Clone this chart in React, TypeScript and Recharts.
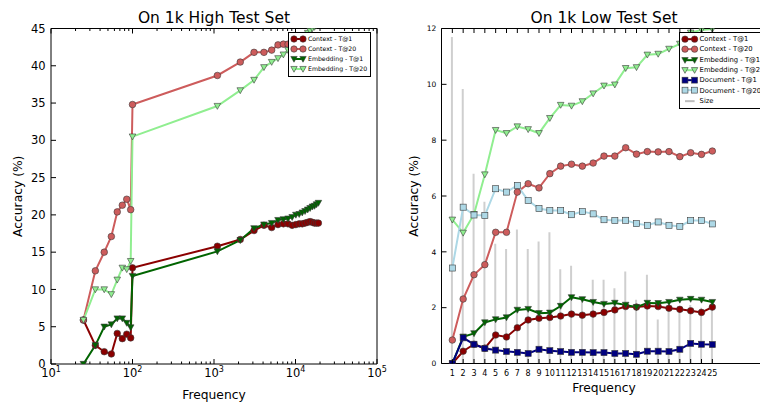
import { ComposedChart, Line, Bar, XAxis, YAxis, Legend, Label } from 'recharts'

const FONT = 'DejaVu Sans, sans-serif'

// On 1k High Test Set
const highFreq = [25, 35, 45, 55, 65, 75, 85, 95, 100, 1100, 2100, 3100, 4100, 5100, 6100, 7100, 8100, 9100, 10100, 11100, 12100, 13100, 14100, 15100, 16100, 17100, 18100, 19100]
const highContextT1 = [5.9, 2.5, 1.65, 1.35, 4.1, 3.4, 4.0, 3.5, 12.9, 15.8, 16.7, 17.9, 18.6, 18.3, 18.7, 18.8, 18.8, 18.6, 18.7, 18.8, 18.8, 18.9, 19.0, 19.1, 19.0, 18.9, 18.9, 18.9]
const highContextT20 = [5.9, 12.5, 15.0, 17.1, 20.4, 21.3, 22.1, 20.7, 34.8, 38.7, 40.5, 41.8, 41.8, 42.1, 42.8, 42.9, 42.9, 43.0, 43.1, 43.2, 43.3, 43.4, 43.5, 43.5, 43.6, 43.7, 43.8, 43.8]
const highEmbedT1 = [0, 2.5, 5.0, 5.3, 6.1, 6.1, 5.5, 4.9, 11.8, 15.1, 16.6, 18.2, 18.7, 18.9, 19.3, 19.4, 19.5, 19.7, 20.0, 20.1, 20.3, 20.5, 20.7, 20.9, 21.1, 21.2, 21.4, 21.6]
const highEmbedT20 = [5.9, 10.0, 10.0, 9.35, 11.3, 12.9, 12.7, 13.8, 30.5, 34.6, 36.7, 38.1, 39.8, 40.5, 41.0, 41.5, 42.1, 42.6, 43.0, 43.4, 43.8, 44.1, 44.4, 44.7, 45.0, 45.2, 45.4, 45.6]
const highYTicks = [0, 5, 10, 15, 20, 25, 30, 35, 40, 45]
const highDecades = [10, 100, 1000, 10000]
const minorSteps = [1, 2, 3, 4, 5, 6, 7, 8, 9]
const highXTicks = [...highDecades.flatMap((d) => minorSteps.map((m) => d * m)), 100000]

// On 1k Low Test Set
const lowFreq = [1, 2, 3, 4, 5, 6, 7, 8, 9, 10, 11, 12, 13, 14, 15, 16, 17, 18, 19, 20, 21, 22, 23, 24, 25]
const lowContextT1 = [0, 0.44, 0.69, 0.55, 1.02, 0.95, 1.28, 1.56, 1.62, 1.65, 1.7, 1.77, 1.73, 1.77, 1.83, 1.92, 2.04, 2.02, 2.06, 2.04, 1.98, 1.94, 1.89, 1.83, 2.02]
const lowContextT20 = [0.84, 2.31, 3.18, 3.54, 4.7, 4.7, 6.14, 6.44, 6.29, 6.8, 7.07, 7.14, 7.07, 7.18, 7.43, 7.43, 7.73, 7.5, 7.59, 7.58, 7.59, 7.41, 7.55, 7.49, 7.61]
const lowEmbedT1 = [0, 0.96, 1.08, 1.47, 1.58, 1.65, 1.92, 1.95, 1.8, 1.82, 2.06, 2.37, 2.3, 2.2, 2.13, 2.17, 2.1, 2.02, 2.17, 2.16, 2.2, 2.28, 2.31, 2.28, 2.2]
const lowEmbedT20 = [5.15, 4.68, 5.35, 6.77, 8.36, 8.25, 8.49, 8.39, 8.25, 8.79, 9.26, 9.23, 9.39, 9.67, 9.95, 9.99, 10.58, 10.61, 11.06, 11.09, 11.27, 11.45, 11.85, 11.95, 11.98]
const lowDocT1 = [0, 0.92, 0.69, 0.54, 0.48, 0.43, 0.4, 0.36, 0.51, 0.46, 0.43, 0.4, 0.4, 0.39, 0.39, 0.36, 0.36, 0.33, 0.44, 0.44, 0.43, 0.51, 0.72, 0.69, 0.68]
const lowDocT20 = [3.42, 5.6, 5.32, 5.3, 6.26, 6.14, 6.38, 5.84, 5.55, 5.48, 5.48, 5.33, 5.44, 5.36, 5.15, 5.12, 5.13, 5.01, 4.95, 5.07, 4.95, 4.91, 5.12, 5.12, 5.0]
const lowSize = [11.7, 9.83, 6.8, 5.79, 4.29, 4.1, 4.8, 4.1, 4.37, 4.7, 3.38, 3.5, 2.2, 3.0, 3.0, 2.7, 3.3, 2.28, 3.18, 1.58, 2.0, 1.9, 2.1, 2.0, 2.0]
const lowYTicks = [0, 2, 4, 6, 8, 10, 12]

const highData = highFreq.map((f, i) => ({
  f,
  c1: highContextT1[i],
  c20: highContextT20[i],
  e1: highEmbedT1[i],
  e20: highEmbedT20[i],
}))

const lowData = lowFreq.map((f, i) => ({
  f,
  c1: lowContextT1[i],
  c20: lowContextT20[i],
  e1: lowEmbedT1[i],
  e20: lowEmbedT20[i],
  d1: lowDocT1[i],
  d20: lowDocT20[i],
  size: lowSize[i],
}))

type Shape = 'circle' | 'tri' | 'square' | 'none'
type Series = { key: string; name: string; color: string; shape: Shape }

const highSeries: Series[] = [
  { key: 'c1', name: 'Context - T@1', color: '#8B0000', shape: 'circle' },
  { key: 'c20', name: 'Context - T@20', color: '#CD5C5C', shape: 'circle' },
  { key: 'e1', name: 'Embedding - T@1', color: '#006400', shape: 'tri' },
  { key: 'e20', name: 'Embedding - T@20', color: '#90EE90', shape: 'tri' },
]
const lowSeries: Series[] = [
  ...highSeries,
  { key: 'd1', name: 'Document - T@1', color: '#000080', shape: 'square' },
  { key: 'd20', name: 'Document - T@20', color: '#ADD8E6', shape: 'square' },
]
const sizeEntry: Series = { key: 'size', name: 'Size', color: '#bdbdbd', shape: 'none' }

function Marker({ shape, x, y, fill, s }: { shape: Shape; x: number; y: number; fill: string; s: number }) {
  const edge = '#3a3a3a'
  if (shape === 'circle') return <circle cx={x} cy={y} r={s} fill={fill} stroke={edge} strokeWidth={0.6} />
  if (shape === 'square')
    return <rect x={x - s * 0.92} y={y - s * 0.92} width={s * 1.84} height={s * 1.84} fill={fill} stroke={edge} strokeWidth={0.6} />
  if (shape === 'tri')
    return (
      <polygon
        points={`${x - s},${y - s * 0.8} ${x + s},${y - s * 0.8} ${x},${y + s}`}
        fill={fill}
        stroke={edge}
        strokeWidth={0.6}
      />
    )
  return null
}

const makeDot = (shape: Shape, fill: string, s: number) => (p: any) => {
  if (p.cx == null || p.cy == null) return <g key={`n${p.index}`} />
  return (
    <g key={`m${p.index}`}>
      <Marker shape={shape} x={p.cx} y={p.cy} fill={fill} s={s} />
    </g>
  )
}

function LegendBox({ items, fontSize, rowH, gap, padRight }: { items: Series[]; fontSize: number; rowH: number; gap: number; padRight: number }) {
  return (
    <div
      style={{
        border: '1px solid #000',
        background: '#fff',
        padding: `1px ${padRight}px 2px 1px`,
        fontFamily: FONT,
        fontSize,
        whiteSpace: 'nowrap',
        color: '#000',
      }}
    >
      {items.map((it) => (
        <div key={it.key} style={{ display: 'flex', alignItems: 'center', height: rowH }}>
          <svg width={gap + 8} height={rowH} style={{ display: 'block' }}>
            <line x1={4} x2={4 + gap} y1={rowH / 2} y2={rowH / 2} stroke={it.color} strokeWidth={2} />
            <Marker shape={it.shape} x={4} y={rowH / 2} fill={it.color} s={3.2} />
            <Marker shape={it.shape} x={4 + gap} y={rowH / 2} fill={it.color} s={3.2} />
          </svg>
          <span style={{ marginLeft: 1 }}>{it.name}</span>
        </div>
      ))}
    </div>
  )
}

// tick renderers: ticks point into the plot, as in the original
function LogBottomTick({ x = 0, y = 0, payload }: any) {
  const v = payload?.value ?? 1
  const p = Math.log10(v)
  const major = Math.abs(p - Math.round(p)) < 1e-6
  return (
    <g>
      <line x1={x} x2={x} y1={y} y2={y - (major ? 5 : 2.5)} stroke="#000" />
      {major && (
        <text x={x} y={y + 12.5} textAnchor="middle" fontSize={11.5} fontFamily={FONT} fill="#000">
          10<tspan dy={-5} fontSize={8}>{Math.round(p)}</tspan>
        </text>
      )}
    </g>
  )
}
function LogTopTick({ x = 0, y = 0, payload }: any) {
  const p = Math.log10(payload?.value ?? 1)
  const major = Math.abs(p - Math.round(p)) < 1e-6
  return <line x1={x} x2={x} y1={y} y2={y + (major ? 5 : 2.5)} stroke="#000" />
}
const bottomTick = (fontSize: number, dy: number) => ({ x = 0, y = 0, payload }: any) => (
  <g>
    <line x1={x} x2={x} y1={y} y2={y - 4.5} stroke="#000" />
    <text x={x} y={y + dy} textAnchor="middle" fontSize={fontSize} fontFamily={FONT} fill="#000">
      {payload?.value}
    </text>
  </g>
)
const topTick = ({ x = 0, y = 0 }: any) => <line x1={x} x2={x} y1={y} y2={y + 4.5} stroke="#000" />
const leftTick = (fontSize: number) => ({ x = 0, y = 0, payload }: any) => (
  <g>
    <line x1={x} x2={x + 5} y1={y} y2={y} stroke="#000" />
    <text x={x - 5.3} y={y + fontSize * 0.36} textAnchor="end" fontSize={fontSize} fontFamily={FONT} fill="#000">
      {payload?.value}
    </text>
  </g>
)
const rightTick = ({ x = 0, y = 0 }: any) => <line x1={x} x2={x - 5} y1={y} y2={y} stroke="#000" />

const titleLabel = (text: string) => (props: any) => {
  const vb = props.viewBox
  return (
    <text x={vb.x + vb.width / 2} y={vb.y - 4.5} textAnchor="middle" fontSize={15.5} fontFamily={FONT} fill="#000">
      {text}
    </text>
  )
}
const xLabel = (dy: number) => (props: any) => {
  const vb = props.viewBox
  return (
    <text x={vb.x + vb.width / 2} y={vb.y + dy} textAnchor="middle" fontSize={12.3} fontFamily={FONT} fill="#000">
      Frequency
    </text>
  )
}
const yLabel = (dx: number) => (props: any) => {
  const vb = props.viewBox
  const cx = vb.x + vb.width - dx
  const cy = vb.y + vb.height / 2
  return (
    <text x={cx} y={cy} transform={`rotate(-90 ${cx} ${cy})`} textAnchor="middle" fontSize={12.3} fontFamily={FONT} fill="#000">
      Accuracy (%)
    </text>
  )
}

const axisBase = {
  tickSize: 0,
  tickMargin: 0,
  tickLine: false,
  interval: 0 as const,
  axisLine: { stroke: '#000' },
}

function HighChart() {
  // svg is a little wider than the plot so the 10^5 label is not cut at x=380
  return (
    <ComposedChart width={394} height={403} data={highData} margin={{ top: 27.5, right: 16, bottom: 38, left: 50 }}>
      <XAxis
        {...axisBase}
        dataKey="f"
        type="number"
        scale="log"
        domain={[10, 100000]}
        allowDataOverflow
        ticks={highXTicks}
        height={1}
        tick={<LogBottomTick />}
      >
        <Label content={xLabel(35)} />
      </XAxis>
      <XAxis
        {...axisBase}
        xAxisId="top"
        orientation="top"
        dataKey="f"
        type="number"
        scale="log"
        domain={[10, 100000]}
        allowDataOverflow
        ticks={highXTicks}
        height={1}
        tick={<LogTopTick />}
      >
        <Label content={titleLabel('On 1k High Test Set')} />
      </XAxis>
      <YAxis {...axisBase} type="number" domain={[0, 45]} allowDataOverflow ticks={highYTicks} width={1} tick={leftTick(11.5)}>
        <Label content={yLabel(29.3)} />
      </YAxis>
      <YAxis
        {...axisBase}
        yAxisId="right"
        orientation="right"
        type="number"
        domain={[0, 45]}
        ticks={highYTicks}
        width={1}
        tick={rightTick}
      />
      {highSeries.map((s) => (
        <Line
          key={s.key}
          dataKey={s.key}
          type="linear"
          stroke={s.color}
          strokeWidth={2}
          dot={makeDot(s.shape, s.color, 3.3)}
          activeDot={false}
          isAnimationActive={false}
        />
      ))}
      <Legend
        layout="vertical"
        align="center"
        verticalAlign="middle"
        wrapperStyle={{ top: 31.5, left: 288, width: 'auto', height: 'auto' }}
        content={() => <LegendBox items={highSeries} fontSize={6.2} rowH={10} gap={9} padRight={3} />}
      />
    </ComposedChart>
  )
}

function LowChart() {
  return (
    <ComposedChart width={390} height={403} data={lowData} margin={{ top: 27.5, right: 2.5, bottom: 38.5, left: 60.5 }}>
      <XAxis {...axisBase} dataKey="f" type="number" domain={[0, 30]} ticks={lowFreq} height={1} tick={bottomTick(8, 12)}>
        <Label content={xLabel(28)} />
      </XAxis>
      <XAxis
        {...axisBase}
        xAxisId="top"
        orientation="top"
        dataKey="f"
        type="number"
        domain={[0, 30]}
        ticks={lowFreq}
        height={1}
        tick={topTick}
      >
        <Label content={titleLabel('On 1k Low Test Set')} />
      </XAxis>
      <YAxis {...axisBase} type="number" domain={[0, 12]} allowDataOverflow ticks={lowYTicks} width={1} tick={leftTick(7.5)}>
        <Label content={yLabel(23.5)} />
      </YAxis>
      <YAxis
        {...axisBase}
        yAxisId="right"
        orientation="right"
        type="number"
        domain={[0, 12]}
        ticks={lowYTicks}
        width={1}
        tick={rightTick}
      />
      <Bar dataKey="size" barSize={2} fill="#cfcfcf" isAnimationActive={false} />
      {lowSeries.map((s) => (
        <Line
          key={s.key}
          dataKey={s.key}
          type="linear"
          stroke={s.color}
          strokeWidth={2}
          dot={makeDot(s.shape, s.color, 3.3)}
          activeDot={false}
          isAnimationActive={false}
        />
      ))}
      <Legend
        layout="vertical"
        align="center"
        verticalAlign="middle"
        wrapperStyle={{ top: 32, left: 299, width: 'auto', height: 'auto' }}
        content={() => <LegendBox items={[...lowSeries, sizeEntry]} fontSize={6.8} rowH={10.3} gap={9.6} padRight={4} />}
      />
    </ComposedChart>
  )
}

export default function App() {
  return (
    <div style={{ position: 'fixed', left: 0, top: 0, width: 760, height: 403, overflow: 'hidden', background: '#fff' }}>
      <div style={{ position: 'absolute', left: 0, top: 0 }}>
        <HighChart />
      </div>
      <div style={{ position: 'absolute', left: 380, top: 0 }}>
        <LowChart />
      </div>
    </div>
  )
}
